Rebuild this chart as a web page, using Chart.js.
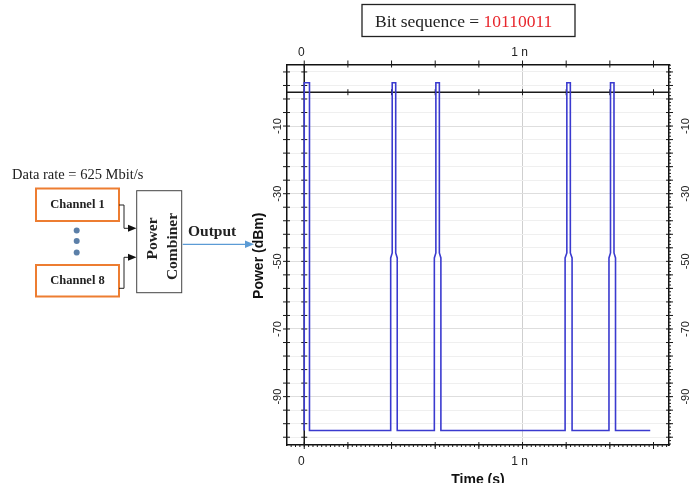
<!DOCTYPE html>
<html>
<head>
<meta charset="utf-8">
<script src="https://cdn.jsdelivr.net/npm/chart.js@4.4.1/dist/chart.umd.min.js"></script>
<style>
  html, body { margin: 0; padding: 0; background: #fff; }
  #wrap { position: relative; width: 694px; height: 483px; overflow: hidden; background: #fff; }
  #plot { position: absolute; left: 0; top: 0; }
  #diagram { position: absolute; left: 0; top: 0; }
</style>
</head>
<body>
<div id="wrap">
  <canvas id="plot" width="694" height="483"></canvas>
  <svg id="diagram" width="694" height="483" xmlns="http://www.w3.org/2000/svg"></svg>
</div>
<script>
// Output trace of the power combiner: time in ns, power in dBm
const timeNs = [
  0, 0, 0.024, 0.024,
  0.396, 0.396, 0.403, 0.403, 0.419, 0.419, 0.426, 0.426,
  0.596, 0.596, 0.603, 0.603, 0.619, 0.619, 0.626, 0.626,
  1.195, 1.195, 1.203, 1.203, 1.219, 1.219, 1.227, 1.227,
  1.396, 1.396, 1.403, 1.403, 1.419, 1.419, 1.426, 1.426,
  1.585
];
const powerDbm = [
  -100, 2.8, 2.8, -100,
  -100, -49, -47.5, 2.8, 2.8, -47.5, -49, -100,
  -100, -49, -47.5, 2.8, 2.8, -47.5, -49, -100,
  -100, -49, -47.5, 2.8, 2.8, -47.5, -49, -100,
  -100, -49, -47.5, 2.8, 2.8, -47.5, -49, -100,
  -100
];

// Axis ticks
const xTickValues = [0, 0.2, 0.4, 0.6, 0.8, 1, 1.2, 1.4, 1.6];
const xTickLabels = ['0', '', '', '', '', '1 n', '', '', ''];
const yTickValues = [-102, -98, -94, -90, -86, -82, -78, -74, -70, -66, -62, -58, -54, -50,
  -46, -42, -38, -34, -30, -26, -22, -18, -14, -10, -6, -2, 2, 6];
const yLabelValues = [-90, -70, -50, -30, -10];
const yLabelTexts = ['-90', '-70', '-50', '-30', '-10'];

// Texts of the setup sketch
const dataRateText = 'Data rate = 625 Mbit/s';
const channelNames = ['Channel 1', 'Channel 8'];
const bitSequence = '10110011';

const X_MIN = -0.079, X_MAX = 1.671;
const Y_MIN = -104.3, Y_MAX = 8.2;

const points = timeNs.map((t, i) => ({ x: t, y: powerDbm[i] }));

const setTicks = (values) => (scale) => { scale.ticks = values.map(v => ({ value: v })); };

const frameTicks = {
  id: 'frameTicks',
  beforeDatasetsDraw(chart) {
    const { ctx, chartArea: a, scales } = chart;
    const x0 = scales.x.getPixelForValue(0);
    const y0 = scales.y.getPixelForValue(0);
    ctx.save();
    ctx.strokeStyle = '#1a1a1a';
    ctx.lineWidth = 1.5;
    ctx.beginPath();
    ctx.moveTo(a.left, y0); ctx.lineTo(a.right, y0);
    ctx.moveTo(x0, a.top); ctx.lineTo(x0, a.bottom);
    ctx.stroke();
    ctx.lineWidth = 1;
    ctx.beginPath();
    xTickValues.forEach(v => {
      const px = scales.x.getPixelForValue(v);
      ctx.moveTo(px, y0 - 3); ctx.lineTo(px, y0 + 3);
    });
    yTickValues.forEach(v => {
      const py = scales.y.getPixelForValue(v);
      ctx.moveTo(x0 - 3, py); ctx.lineTo(x0 + 3, py);
    });
    ctx.stroke();
    ctx.restore();
  },
  afterDraw(chart) {
    const { ctx, chartArea: a, scales } = chart;
    ctx.save();
    ctx.strokeStyle = '#1a1a1a';
    ctx.lineWidth = 1;
    ctx.beginPath();
    yTickValues.forEach(v => {
      const py = scales.y.getPixelForValue(v);
      ctx.moveTo(a.left - 4, py); ctx.lineTo(a.left + 3, py);
      ctx.moveTo(a.right - 3, py); ctx.lineTo(a.right + 4, py);
    });
    for (let v = -104; v <= 8; v += 1) {
      const py = scales.y.getPixelForValue(v);
      ctx.moveTo(a.right - 1, py); ctx.lineTo(a.right + 2, py);
    }
    xTickValues.forEach(v => {
      const px = scales.x.getPixelForValue(v);
      ctx.moveTo(px, a.top - 4); ctx.lineTo(px, a.top + 3);
      ctx.moveTo(px, a.bottom - 3); ctx.lineTo(px, a.bottom + 4);
    });
    for (let k = -3; k <= 83; k++) {
      const px = scales.x.getPixelForValue(k * 0.02);
      ctx.moveTo(px, a.bottom - 1); ctx.lineTo(px, a.bottom + 2);
    }
    ctx.stroke();

    // rotated power labels on both sides
    ctx.fillStyle = '#222';
    ctx.font = '11px "Liberation Sans", Arial, sans-serif';
    ctx.textAlign = 'center';
    ctx.textBaseline = 'middle';
    yLabelValues.forEach((v, i) => {
      const py = scales.y.getPixelForValue(v);
      [a.left - 9.5, a.right + 17].forEach(px => {
        ctx.save();
        ctx.translate(px, py);
        ctx.rotate(-Math.PI / 2);
        ctx.fillText(yLabelTexts[i], 0, 0);
        ctx.restore();
      });
    });

    // axis titles
    ctx.fillStyle = '#111';
    ctx.font = 'bold 14px "Liberation Sans", Arial, sans-serif';
    ctx.save();
    ctx.translate(a.left - 28, (a.top + a.bottom) / 2 + 1);
    ctx.rotate(-Math.PI / 2);
    ctx.fillText('Power (dBm)', 0, 0);
    ctx.restore();
    ctx.textBaseline = 'alphabetic';
    ctx.fillText('Time (s)', (a.left + a.right) / 2, a.bottom + 39);
    ctx.restore();
  }
};

const tickFont = { family: '"Liberation Sans", Arial, sans-serif', size: 12 };

new Chart(document.getElementById('plot'), {
  type: 'line',
  data: {
    datasets: [{
      data: points,
      borderColor: '#3a3acf',
      borderWidth: 1.6,
      pointRadius: 0,
      tension: 0,
      fill: false
    }]
  },
  options: {
    responsive: false,
    animation: false,
    events: [],
    layout: { padding: 0 },
    plugins: { legend: { display: false }, tooltip: { enabled: false } },
    scales: {
      x: {
        type: 'linear', position: 'bottom', min: X_MIN, max: X_MAX,
        afterBuildTicks: setTicks(xTickValues),
        afterFit: s => { s.height = 38; },
        ticks: {
          autoSkip: false, maxRotation: 0, minRotation: 0, padding: 9, labelOffset: -3,
          color: '#222', font: tickFont,
          callback: (v, i) => xTickLabels[i]
        },
        grid: {
          drawTicks: false,
          color: c => (c.tick && (c.tick.value === 1)) ? '#cfcfcf' : 'rgba(0,0,0,0)',
          lineWidth: 1
        },
        border: { display: true, color: '#111', width: 1.5 }
      },
      x2: {
        type: 'linear', position: 'top', min: X_MIN, max: X_MAX,
        afterBuildTicks: setTicks(xTickValues),
        afterFit: s => { s.height = 64.5; },
        ticks: {
          autoSkip: false, maxRotation: 0, minRotation: 0, padding: 5, labelOffset: -3,
          color: '#222', font: tickFont,
          callback: (v, i) => xTickLabels[i]
        },
        grid: { drawTicks: false, drawOnChartArea: false },
        border: { display: true, color: '#111', width: 1.5 }
      },
      y: {
        type: 'linear', position: 'left', min: Y_MIN, max: Y_MAX,
        afterBuildTicks: setTicks(yTickValues),
        afterFit: s => { s.width = 287; },
        ticks: { display: false },
        grid: {
          drawTicks: false,
          color: c => (c.tick && yLabelValues.includes(c.tick.value)) ? '#dedede' : '#efefef',
          lineWidth: 1
        },
        border: { display: true, color: '#111', width: 1.5 }
      },
      y2: {
        type: 'linear', position: 'right', min: Y_MIN, max: Y_MAX,
        afterBuildTicks: setTicks(yTickValues),
        afterFit: s => { s.width = 25; },
        ticks: { display: false },
        grid: { drawTicks: false, drawOnChartArea: false },
        border: { display: true, color: '#111', width: 1.5 }
      }
    }
  },
  plugins: [frameTicks]
});

// Setup sketch: channels feeding the power combiner, plus the bit sequence caption
const NS = 'http://www.w3.org/2000/svg';
const svg = document.getElementById('diagram');
function el(tag, attrs, text) {
  const e = document.createElementNS(NS, tag);
  for (const k in attrs) e.setAttribute(k, attrs[k]);
  if (text !== undefined) e.textContent = text;
  svg.appendChild(e);
  return e;
}
const serif = '"Liberation Serif", "Times New Roman", serif';

el('text', { x: 12, y: 179, 'font-family': serif, 'font-size': 14.5, fill: '#222' }, dataRateText);

el('rect', { x: 36, y: 188.5, width: 83, height: 32.5, fill: '#fff', stroke: '#ed7d31', 'stroke-width': 2 });
el('rect', { x: 36, y: 265, width: 83, height: 31.5, fill: '#fff', stroke: '#ed7d31', 'stroke-width': 2 });
el('text', { x: 77.5, y: 208, 'text-anchor': 'middle', 'font-family': serif, 'font-size': 12.5, 'font-weight': 'bold', fill: '#222' }, channelNames[0]);
el('text', { x: 77.5, y: 284, 'text-anchor': 'middle', 'font-family': serif, 'font-size': 12.5, 'font-weight': 'bold', fill: '#222' }, channelNames[1]);

[230.5, 241, 252.5].forEach(cy => el('circle', { cx: 76.7, cy: cy, r: 3, fill: '#5b7fa8' }));

el('polyline', { points: '119,205 124,205 124,228.3 130,228.3', fill: 'none', stroke: '#222', 'stroke-width': 1 });
el('polygon', { points: '128,224.8 136.5,228.3 128,231.8', fill: '#111' });
el('polyline', { points: '119,288.3 124,288.3 124,257.3 130,257.3', fill: 'none', stroke: '#222', 'stroke-width': 1 });
el('polygon', { points: '128,253.8 136.5,257.3 128,260.8', fill: '#111' });

el('rect', { x: 136.7, y: 190.7, width: 45, height: 102, fill: '#fff', stroke: '#444', 'stroke-width': 1 });
el('text', { x: 0, y: 0, transform: 'translate(156.5,238.5) rotate(-90)', 'text-anchor': 'middle', 'font-family': serif, 'font-size': 15.5, 'font-weight': 'bold', fill: '#222' }, 'Power');
el('text', { x: 0, y: 0, transform: 'translate(176.5,246.5) rotate(-90)', 'text-anchor': 'middle', 'font-family': serif, 'font-size': 15.5, 'font-weight': 'bold', fill: '#222' }, 'Combiner');

el('text', { x: 188, y: 236, 'font-family': serif, 'font-size': 15.5, 'font-weight': 'bold', fill: '#222' }, 'Output');
el('line', { x1: 182.7, y1: 244.3, x2: 247, y2: 244.3, stroke: '#5b9bd5', 'stroke-width': 1.3 });
el('polygon', { points: '245,240.6 254,244.3 245,248', fill: '#5b9bd5' });

el('rect', { x: 362, y: 4.5, width: 213, height: 32, fill: '#fff', stroke: '#222', 'stroke-width': 1.3 });
const cap = el('text', { x: 375, y: 26.7, 'font-family': serif, 'font-size': 17.5, fill: '#222' });
const t1 = document.createElementNS(NS, 'tspan'); t1.textContent = 'Bit sequence = '; cap.appendChild(t1);
const t2 = document.createElementNS(NS, 'tspan'); t2.setAttribute('fill', '#e8262c'); t2.textContent = bitSequence; cap.appendChild(t2);
</script>
</body>
</html>
